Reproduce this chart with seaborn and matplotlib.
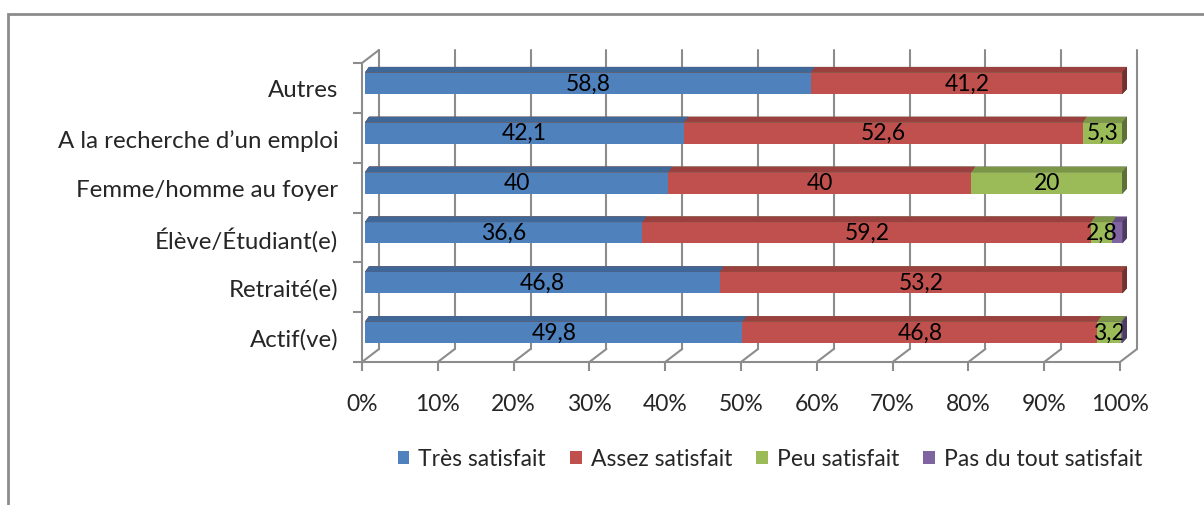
import matplotlib
matplotlib.use("Agg")
import matplotlib.pyplot as plt
import matplotlib.transforms as mtransforms
from matplotlib.patches import Polygon, Rectangle, Patch
from matplotlib.colors import to_rgb
import seaborn as sns
import pandas as pd
import numpy as np

# data (percent)
categories = ["Autres", "A la recherche d’un emploi", "Femme/homme au foyer",
              "Élève/Étudiant(e)", "Retraité(e)", "Actif(ve)"]
tres = [58.8, 42.1, 40, 36.6, 46.8, 49.8]
assez = [41.2, 52.6, 40, 59.2, 53.2, 46.8]
peu = [0, 5.3, 20, 2.8, 0, 3.2]
pas_du_tout = [0, 0, 0, 1.4, 0, 0.2]
series_names = ["Très satisfait", "Assez satisfait", "Peu satisfait", "Pas du tout satisfait"]
colors = ["#4F81BD", "#C0504D", "#9BBB59", "#8064A2"]
xticks = list(range(0, 101, 10))

sns.set_theme(style="white")
plt.rcParams["font.family"] = ["Lato", "DejaVu Sans"]
FS = 16.5

W, H = 1204, 506
fig = plt.figure(figsize=(W / 100, H / 100), dpi=100)
ax = fig.add_axes([362 / W, 1 - 363 / H, (1120 - 362) / W, (363 - 64) / H])

series = [tres, assez, peu, pas_du_tout]
cum = np.cumsum(series, axis=0)
df = pd.DataFrame({"cat": categories})

def shade(c, f):
    return tuple(v * f for v in to_rgb(c))

# depth offsets (pixels)
bar_tr = mtransforms.offset_copy(ax.transData, fig=fig, x=3, y=5, units="dots")
back_tr = mtransforms.offset_copy(ax.transData, fig=fig, x=17, y=13, units="dots")
gray = "#8c8c8c"

# stacked bars by overlaying cumulative totals, longest first
drawn = []
z = 2
for i in range(3, -1, -1):
    df["val"] = cum[i]
    n0 = len(ax.patches)
    sns.barplot(data=df, x="val", y="cat", orient="h", color=colors[i], saturation=1,
                width=0.44, errorbar=None, ax=ax)
    for p in ax.patches[n0:]:
        p.set_transform(bar_tr)
        p.set_zorder(z)
        p.set_linewidth(0)
        p.set_clip_on(False)
        drawn.append((p, colors[i], z))
    z += 1

ax.set_xlim(0, 100)
ax.set_ylim(5.5, -0.5)

# 3d top and side faces, from the drawn bars
ident = mtransforms.IdentityTransform()
d = (4, 5)
for p, c, zz in drawn:
    x0, y0 = p.get_x(), p.get_y()
    x1, y1 = x0 + p.get_width(), y0 + p.get_height()
    pts = bar_tr.transform([(x0, y0), (x1, y0), (x1, y1), (x0, y1)])
    left, right = pts[:, 0].min(), pts[:, 0].max()
    bot, top = pts[:, 1].min(), pts[:, 1].max()
    fig.patches.append(Polygon([(left, top - 0.6), (right, top - 0.6),
                                (right + d[0], top + d[1]), (left + d[0], top + d[1])],
                               closed=True, facecolor=shade(c, 0.8), edgecolor="none",
                               transform=ident, zorder=zz))
    if p.get_width() > 99.9:
        fig.patches.append(Polygon([(right - 0.6, bot), (right - 0.6, top),
                                    (right + d[0], top + d[1]), (right + d[0], bot + d[1])],
                                   closed=True, facecolor=shade(c, 0.6), edgecolor="none",
                                   transform=ident, zorder=zz))

# value labels
for i in range(3):
    for j, v in enumerate(series[i]):
        if v <= 0:
            continue
        xc = cum[i][j] - v / 2
        ax.text(xc, j, f"{v:g}".replace(".", ","), transform=bar_tr, ha="center",
                va="center", fontsize=FS, color="black", zorder=20)

# back wall gridlines + floor diagonals
for t in xticks:
    ax.plot([t, t], [5.5, -0.5], color=gray, lw=1.5, transform=back_tr,
            clip_on=False, zorder=0.5)
for t in xticks:
    a = ax.transData.transform((t, 5.5))
    b = back_tr.transform((t, 5.5))
    fig.lines.append(plt.Line2D([a[0], b[0]], [a[1], b[1]], color=gray, lw=1.5,
                                transform=ident))
a = ax.transData.transform((0, -0.5))
b = back_tr.transform((0, -0.5))
fig.lines.append(plt.Line2D([a[0], b[0]], [a[1], b[1]], color=gray, lw=1.5,
                            transform=ident))

# axes styling
for s in ["top", "right"]:
    ax.spines[s].set_visible(False)
for s in ["left", "bottom"]:
    ax.spines[s].set_color(gray)
    ax.spines[s].set_linewidth(1.5)
ax.set_xticks(xticks)
ax.set_xticklabels([f"{t}%" for t in xticks])
ax.set_yticks(range(len(categories)))
ax.set_yticklabels(categories)
ax.set_yticks(np.arange(-0.5, 6, 1), minor=True)
ax.tick_params(axis="x", length=6.5, width=1.5, color=gray, pad=16,
               labelsize=FS, bottom=True)
ax.tick_params(axis="y", which="major", length=0, pad=17, labelsize=17.3)
ax.tick_params(axis="y", which="minor", length=6.5, width=1.5, color=gray, left=True)
ax.set_xlabel("")
ax.set_ylabel("")
ax.patch.set_alpha(0)

handles = [Patch(facecolor=c, edgecolor="none") for c in colors]
fig.legend(handles, series_names, loc="center", bbox_to_anchor=(770 / W, 1 - 460 / H),
           ncol=4, frameon=False, fontsize=FS, handlelength=0.5, handleheight=0.5,
           handletextpad=0.4, columnspacing=1.05)

# outer chart frame
fig.patches.append(Rectangle((8 / W, -0.1), 1.2, 1.1 - 15 / H, fill=False,
                             edgecolor=gray, lw=2, transform=fig.transFigure))

fig.savefig("out.png", dpi=100)
